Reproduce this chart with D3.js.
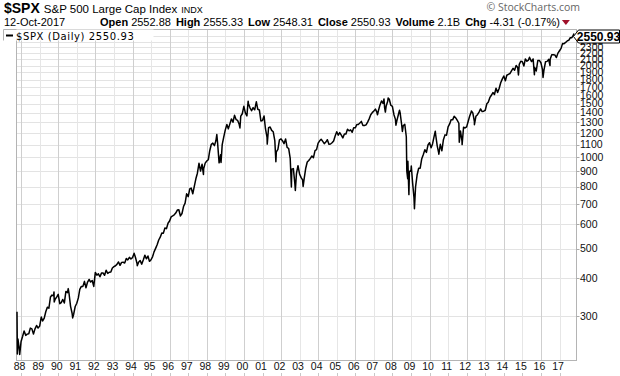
<!DOCTYPE html>
<html>
<head>
<meta charset="utf-8">
<script src="https://cdn.jsdelivr.net/npm/d3@7"></script>
<style>
  body { margin: 0; background: #fff; }
  svg { display: block; font-family: "Liberation Sans", Arial, sans-serif; }
</style>
</head>
<body>
<div id="chart"></div>
<script>
// Monthly closes, Oct 1987 .. Sep 2017 (one value per month end)
const monthlyStart = [1987, 9];
const monthlyClose = [
  251.8, 230.3, 247.1,
  257.1, 267.8, 258.9, 261.3, 262.2, 273.5, 272.0, 261.5, 271.9, 279.0, 273.7, 277.7,
  297.5, 288.9, 294.9, 309.6, 320.5, 318.0, 346.1, 351.5, 349.2, 340.4, 346.0, 353.4,
  329.1, 331.9, 339.9, 330.8, 361.2, 358.0, 356.2, 322.6, 306.1, 304.0, 322.2, 330.2,
  343.9, 367.1, 375.2, 375.3, 389.8, 371.2, 387.8, 395.4, 387.9, 392.5, 375.2, 417.1,
  408.8, 412.7, 403.7, 415.0, 415.4, 408.1, 424.2, 414.0, 417.8, 418.7, 431.4, 435.7,
  438.8, 443.4, 451.7, 440.2, 450.2, 450.5, 448.1, 463.6, 458.9, 467.8, 461.8, 466.5,
  481.6, 467.1, 445.8, 450.9, 456.5, 444.3, 458.3, 475.5, 462.7, 472.4, 453.7, 459.3,
  470.4, 487.4, 500.7, 514.7, 533.4, 544.8, 562.1, 561.9, 584.4, 581.5, 605.4, 615.9,
  636.0, 640.4, 645.5, 654.2, 669.1, 670.6, 640.0, 652.0, 687.3, 705.3, 757.0, 740.7,
  786.2, 790.8, 757.1, 801.3, 848.3, 885.1, 954.3, 899.5, 947.3, 914.6, 955.4, 970.4,
  980.3, 1049.3, 1101.8, 1111.8, 1090.8, 1133.8, 1120.7, 957.3, 1017.0, 1098.7, 1163.6, 1229.2,
  1279.6, 1238.3, 1286.4, 1335.2, 1301.8, 1372.7, 1328.7, 1320.4, 1282.7, 1362.9, 1388.9, 1469.3,
  1394.5, 1366.4, 1498.6, 1452.4, 1420.6, 1454.6, 1430.8, 1517.7, 1436.5, 1429.4, 1315.0, 1320.3,
  1366.0, 1239.9, 1160.3, 1249.5, 1255.8, 1224.4, 1211.2, 1133.6, 1040.9, 1059.8, 1139.5, 1148.1,
  1130.2, 1106.7, 1147.4, 1076.9, 1067.1, 989.8, 911.6, 916.1, 815.3, 885.8, 936.3, 879.8,
  855.7, 841.2, 848.2, 916.9, 963.6, 974.5, 990.3, 1008.0, 996.0, 1050.7, 1058.2, 1111.9,
  1131.1, 1144.9, 1126.2, 1107.3, 1120.7, 1140.8, 1101.7, 1104.2, 1114.6, 1130.2, 1173.8, 1211.9,
  1181.3, 1203.6, 1180.6, 1156.9, 1191.5, 1191.3, 1234.2, 1220.3, 1228.8, 1207.0, 1249.5, 1248.3,
  1280.1, 1280.7, 1294.8, 1310.6, 1270.1, 1270.2, 1276.7, 1303.8, 1335.9, 1377.9, 1400.6, 1418.3,
  1438.2, 1406.8, 1420.9, 1482.4, 1530.6, 1503.4, 1455.3, 1474.0, 1526.8, 1549.4, 1481.1, 1468.4,
  1378.6, 1330.6, 1322.7, 1385.6, 1400.4, 1280.0, 1267.4, 1282.8, 1166.4, 968.8, 896.2, 903.3,
  825.9, 735.1, 797.9, 872.8, 919.1, 919.3, 987.5, 1020.6, 1057.1, 1036.2, 1095.6, 1115.1,
  1073.9, 1104.5, 1169.4, 1186.7, 1089.4, 1030.7, 1101.6, 1049.3, 1141.2, 1183.3, 1180.6, 1257.6,
  1286.1, 1327.2, 1325.8, 1363.6, 1345.2, 1320.6, 1292.3, 1218.9, 1131.4, 1253.3, 1247.0, 1257.6,
  1312.4, 1365.7, 1408.5, 1397.9, 1310.3, 1362.2, 1379.3, 1406.6, 1440.7, 1412.2, 1416.2, 1426.2,
  1498.1, 1514.7, 1569.2, 1597.6, 1630.7, 1606.3, 1685.7, 1633.0, 1681.6, 1756.5, 1805.8, 1848.4,
  1782.6, 1859.5, 1872.3, 1884.0, 1923.6, 1960.2, 1930.7, 2003.4, 1972.3, 2018.1, 2067.6, 2058.9,
  1995.0, 2104.5, 2067.9, 2085.5, 2107.4, 2063.1, 2103.8, 1972.2, 1920.0, 2079.4, 2080.4, 2043.9,
  1940.2, 1932.2, 2059.7, 2065.3, 2097.0, 2098.9, 2173.6, 2171.0, 2168.3, 2126.2, 2198.8, 2238.8,
  2278.9, 2363.6, 2362.7, 2384.2, 2411.8, 2423.4, 2470.3, 2471.7, 2519.4
];

// Intra-month highs / lows seen on the daily line
const swingDates = [
  "1987-10-12", "1987-10-19", "1987-12-04", "1989-10-09", "1989-10-13", "1990-07-16", "1990-10-11",
  "1994-02-02", "1994-04-04", "1997-10-27", "1998-07-17", "1998-10-08", "1999-10-15", "2000-03-24",
  "2000-09-01", "2001-04-04", "2001-09-21", "2002-07-23", "2002-10-09", "2003-03-11", "2007-03-13",
  "2007-07-19", "2007-08-15", "2007-10-09", "2008-03-10", "2008-05-19", "2008-07-15", "2008-10-10",
  "2008-10-27", "2008-11-20", "2009-01-06", "2009-03-09", "2010-04-23", "2010-07-02", "2011-04-29",
  "2011-08-08", "2011-10-03", "2012-04-02", "2012-06-01", "2014-10-15", "2015-05-21", "2015-08-25",
  "2016-02-11", "2016-06-27", "2017-10-12"
];
const swingValues = [
  309.4, 224.8, 223.9, 359.8, 333.7, 369.0, 295.5,
  482.0, 438.9, 877.0, 1186.8, 959.4, 1247.4, 1527.5,
  1520.8, 1103.3, 965.8, 797.7, 776.8, 800.7, 1378.0,
  1553.1, 1406.7, 1565.2, 1273.4, 1426.6, 1214.9, 899.2,
  848.9, 752.4, 934.7, 676.5, 1217.3, 1022.6, 1363.6,
  1119.5, 1099.2, 1419.0, 1278.0, 1862.5, 2130.8, 1867.6,
  1829.1, 2000.5, 2550.93
];

const yTickValues = [300, 400, 500, 600, 700, 800, 900, 1000, 1100, 1200, 1300, 1400, 1500,
  1600, 1700, 1800, 1900, 2000, 2100, 2200, 2300, 2400, 2500];
const xTickYears = d3.range(1988, 2018);

const headerFields = ["Open", "High", "Low", "Close", "Volume", "Chg"];
const headerValues = ["2552.88", "2555.33", "2548.31", "2550.93", "2.1B", "-4.31 (-0.17%)"];
const lastClose = 2550.93;

// ---- build series
const parse = d3.timeParse("%Y-%m-%d");
const series = monthlyClose.map((v, i) => ({
  date: new Date(monthlyStart[0], monthlyStart[1] + i + 1, 0),
  value: v
}));
swingDates.forEach((d, i) => series.push({ date: parse(d), value: swingValues[i] }));
series.sort((a, b) => a.date - b.date);

const width = 620, height = 376;
const plot = { left: 16.5, right: 576.5, top: 29.5, bottom: 360.5 };

const svg = d3.select("#chart").append("svg")
  .attr("width", width)
  .attr("height", height);

svg.append("rect").attr("width", width).attr("height", height).attr("fill", "#fff");

const x = d3.scaleTime()
  .domain([parse("1987-10-12"), parse("2017-10-12")])
  .range([plot.left + 0.5, plot.right - 2.5]);

const y = d3.scaleLog()
  .domain([214, 2630])
  .range([plot.bottom, plot.top]);

// gridlines
const grid = svg.append("g");
grid.selectAll("line.h")
  .data(yTickValues)
  .enter().append("line")
  .attr("x1", plot.left).attr("x2", plot.right)
  .attr("y1", d => Math.round(y(d)) + 0.5).attr("y2", d => Math.round(y(d)) + 0.5)
  .attr("stroke", "#e3e3e3");

grid.selectAll("line.v")
  .data(xTickYears)
  .enter().append("line")
  .attr("x1", d => Math.round(x(new Date(d, 0, 1))) + 0.5)
  .attr("x2", d => Math.round(x(new Date(d, 0, 1))) + 0.5)
  .attr("y1", plot.top).attr("y2", plot.bottom)
  .attr("stroke", d => d % 2 === 0 ? "#cfcfcf" : "#e6e6e6");

// frame
svg.append("rect")
  .attr("x", plot.left).attr("y", plot.top)
  .attr("width", plot.right - plot.left).attr("height", plot.bottom - plot.top)
  .attr("fill", "none").attr("stroke", "#b4b4b4");

// price line
const line = d3.line()
  .x(d => x(d.date))
  .y(d => y(d.value));

svg.append("path")
  .datum(series)
  .attr("d", line)
  .attr("fill", "none")
  .attr("stroke", "#000")
  .attr("stroke-width", 1.5)
  .attr("stroke-linejoin", "round");

// x axis labels + small ticks
const xAxis = svg.append("g");
xAxis.selectAll("text")
  .data(xTickYears)
  .enter().append("text")
  .attr("x", d => x(new Date(d, 0, 1)) - 1.5)
  .attr("y", 370)
  .attr("text-anchor", "middle")
  .attr("font-size", "10.5px")
  .attr("fill", "#111")
  .text(d => d3.timeFormat("%y")(new Date(d, 0, 1)));

xAxis.selectAll("line")
  .data(xTickYears)
  .enter().append("line")
  .attr("x1", d => Math.round(x(new Date(d, 0, 1))) + 0.5)
  .attr("x2", d => Math.round(x(new Date(d, 0, 1))) + 0.5)
  .attr("y1", 373).attr("y2", 376)
  .attr("stroke", "#c8c8c8");

// y axis on the right
const yAxis = svg.append("g");
yAxis.selectAll("line")
  .data(yTickValues)
  .enter().append("line")
  .attr("x1", plot.right).attr("x2", plot.right + 3)
  .attr("y1", d => Math.round(y(d)) + 0.5).attr("y2", d => Math.round(y(d)) + 0.5)
  .attr("stroke", "#aaa");

yAxis.selectAll("text")
  .data(yTickValues)
  .enter().append("text")
  .attr("x", 580)
  .attr("y", d => y(d))
  .attr("dy", "0.36em")
  .attr("font-size", "10.5px")
  .attr("fill", "#111")
  .text(d => d);

// last value tag
const tagY = Math.max(y(lastClose), plot.top + 7);
const tag = svg.append("g");
tag.append("path")
  .attr("d", `M${plot.right - 3},${tagY} L${plot.right + 2},${tagY - 6.5} L619.5,${tagY - 6.5} L619.5,${tagY + 6.5} L${plot.right + 2},${tagY + 6.5} Z`)
  .attr("fill", "#fff")
  .attr("stroke", "#000");
tag.append("text")
  .attr("x", 598.5)
  .attr("y", tagY)
  .attr("dy", "0.36em")
  .attr("text-anchor", "middle")
  .attr("font-size", "12px")
  .attr("font-weight", "bold")
  .text(lastClose.toFixed(2));

// legend (sits over the top-left corner of the frame)
const legend = svg.append("g");
legend.append("rect")
  .attr("x", 3.5).attr("y", plot.top)
  .attr("width", 150).attr("height", 11)
  .attr("fill", "#fff");
legend.append("path")
  .attr("d", `M3.5,${plot.top + 11} V${plot.top} H${plot.left}`)
  .attr("fill", "none")
  .attr("stroke", "#b4b4b4");
legend.append("line")
  .attr("x1", 6).attr("x2", 13)
  .attr("y1", 35.5).attr("y2", 35.5)
  .attr("stroke", "#000").attr("stroke-width", 2);
legend.append("text")
  .attr("x", 16).attr("y", 39.5)
  .attr("font-family", "DejaVu Sans, Verdana, sans-serif")
  .attr("font-size", "10px")
  .attr("letter-spacing", "0.6px")
  .text("$SPX (Daily) " + lastClose.toFixed(2));

// header
const head = svg.append("g");
const t1 = head.append("text").attr("x", 4).attr("y", 13);
t1.append("tspan").attr("font-size", "14px").attr("font-weight", "bold").text("$SPX");
t1.append("tspan").attr("dx", 4).attr("font-size", "11.5px").text("S&P 500 Large Cap Index");
t1.append("tspan").attr("dx", 4).attr("font-size", "9px").text("INDX");

head.append("text").attr("x", 4).attr("y", 26).attr("font-size", "11px").text("12-Oct-2017");

let cx = 100;
headerFields.forEach((f, i) => {
  const lab = head.append("text").attr("x", cx).attr("y", 26)
    .attr("font-size", "11px").attr("font-weight", "bold").text(f);
  cx += lab.node().getComputedTextLength() + 3;
  const val = head.append("text").attr("x", cx).attr("y", 26)
    .attr("font-size", "11px").text(headerValues[i]);
  cx += val.node().getComputedTextLength() + 5;
});
head.append("path")
  .attr("d", `M${cx - 3},20 L${cx + 5},20 L${cx + 1},25 Z`)
  .attr("fill", "#a0102a");

head.append("text")
  .attr("x", 580).attr("y", 11)
  .attr("text-anchor", "end")
  .attr("font-family", "Open Sans, sans-serif")
  .attr("font-size", "10.5px")
  .attr("fill", "#666")
  .text("\u00A9 StockCharts.com");
</script>
</body>
</html>
